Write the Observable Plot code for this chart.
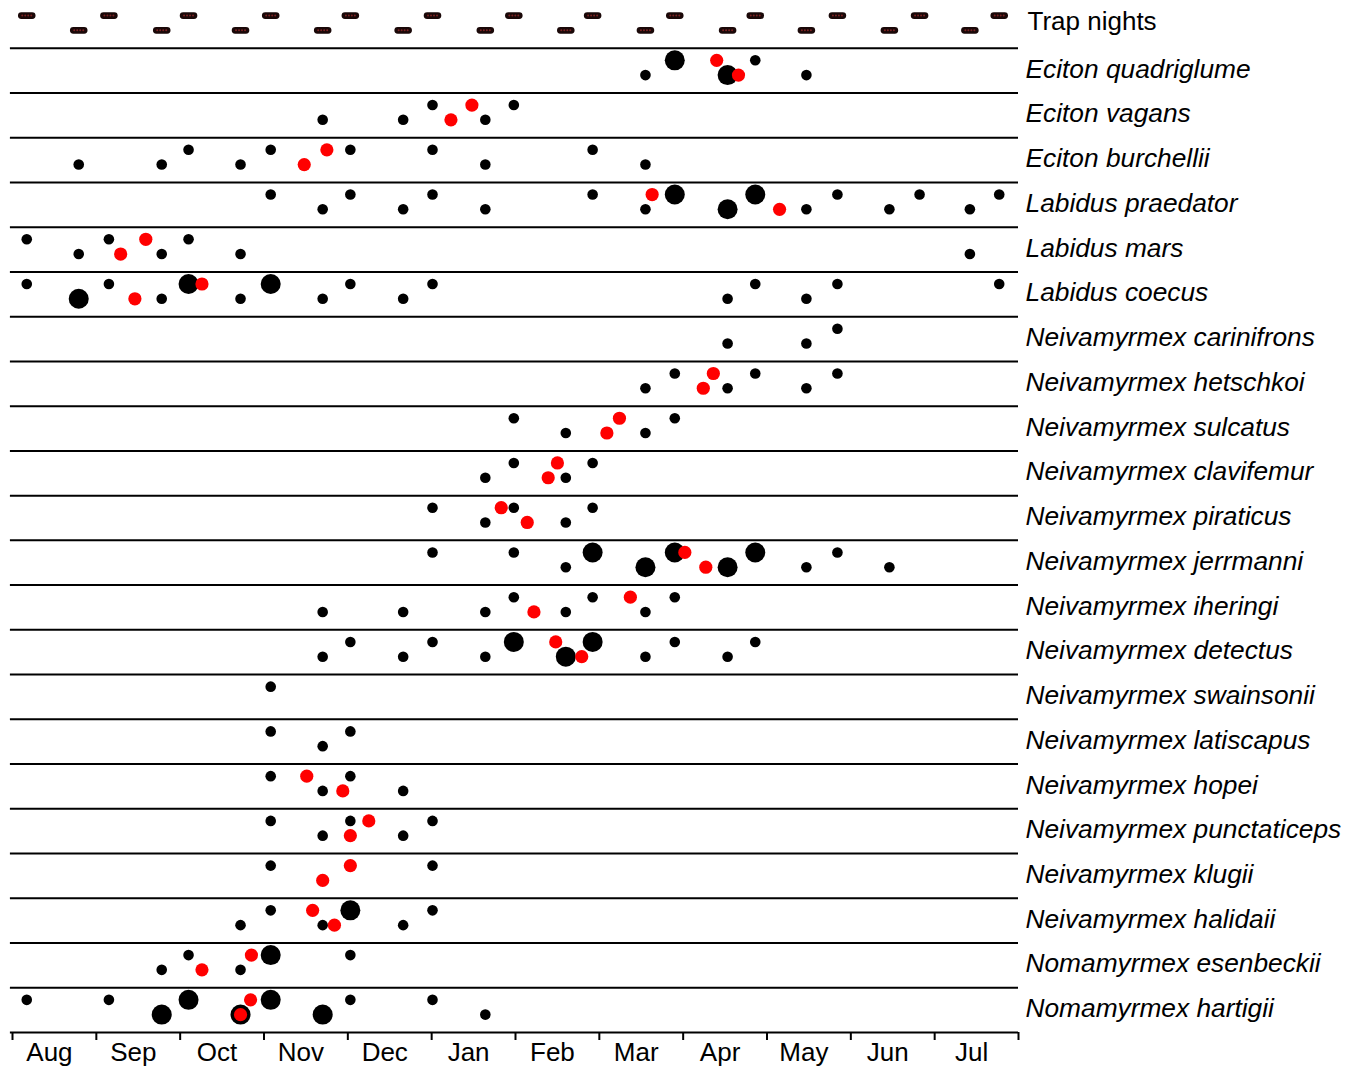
<!DOCTYPE html>
<html>
<head>
<meta charset="utf-8">
<script src="https://cdn.jsdelivr.net/npm/d3@7"></script>
<script src="https://cdn.jsdelivr.net/npm/@observablehq/plot@0.6"></script>
<style>
  html, body { margin: 0; padding: 0; background: #fff; }
  #chart svg { display: block; }
</style>
</head>
<body>
<div id="chart"></div>
<script>
// Row labels (row 0 = trap nights)
const rowLabels = [
  "Trap nights",
  "Eciton quadriglume", "Eciton vagans", "Eciton burchellii",
  "Labidus praedator", "Labidus mars", "Labidus coecus",
  "Neivamyrmex carinifrons", "Neivamyrmex hetschkoi", "Neivamyrmex sulcatus",
  "Neivamyrmex clavifemur", "Neivamyrmex piraticus", "Neivamyrmex jerrmanni",
  "Neivamyrmex iheringi", "Neivamyrmex detectus", "Neivamyrmex swainsonii",
  "Neivamyrmex latiscapus", "Neivamyrmex hopei", "Neivamyrmex punctaticeps",
  "Neivamyrmex klugii", "Neivamyrmex halidaii",
  "Nomamyrmex esenbeckii", "Nomamyrmex hartigii"
];

const monthLabels = ["Aug","Sep","Oct","Nov","Dec","Jan","Feb","Mar","Apr","May","Jun","Jul"];

// Sampling dates (months since 1 Aug); even index = upper level, odd = lower level
const sampleMonths = [0.17,0.79,1.15,1.78,2.10,2.72,3.08,3.70,4.03,4.66,5.01,5.64,5.98,
                      6.60,6.92,7.55,7.90,8.53,8.86,9.47,9.84,10.46,10.82,11.42,11.77];

// Trap-night sampling indices
const trapIdx = d3.range(25);

// Small black records (sample indices) per row
const smallIdx = [
  [],
  [15,18,19],
  [7,9,10,11,12],
  [1,3,4,5,6,8,10,11,14,15],
  [6,7,8,9,10,11,14,15,19,20,21,22,23,24],
  [0,1,2,3,4,5,23],
  [0,2,3,5,7,8,9,10,17,18,19,20,24],
  [17,19,20],
  [15,16,17,18,19,20],
  [12,13,15,16],
  [11,12,13,14],
  [10,11,12,13,14],
  [10,12,13,19,20,21],
  [7,9,11,12,13,14,15,16],
  [7,8,9,10,11,15,16,17,18],
  [6],
  [6,7,8],
  [6,7,8,9],
  [6,7,8,9,10],
  [6,10],
  [5,6,7,9,10],
  [3,4,5,8],
  [0,2,8,10,11]
];

// Large black records (sample indices) per row
const bigIdx = [
  [], [16,17], [], [], [16,17,18], [], [1,4,6], [], [], [], [], [],
  [14,15,16,17,18], [], [12,13,14], [], [], [], [], [], [8], [6], [3,4,5,6,7]
];

// Red records: date (months since 1 Aug) and level (1 = upper, 0 = lower) per row
const redMonths = [
  [], [8.40,8.66], [5.23,5.48], [3.48,3.75], [7.63,9.15], [1.29,1.59], [1.46,2.26], [],
  [8.24,8.36], [7.09,7.24], [6.39,6.50], [5.83,6.14], [8.02,8.27], [6.22,7.37], [6.48,6.79],
  [], [], [3.51,3.94], [4.03,4.25], [3.70,4.03], [3.58,3.84], [2.26,2.85], [2.84,2.72]
];
const redUpper = [
  [], [1,0], [0,1], [0,1], [1,0], [0,1], [0,1], [],
  [0,1], [0,1], [0,1], [1,0], [1,0], [0,1], [1,0],
  [], [], [1,0], [0,1], [0,1], [1,0], [0,1], [1,0]
];

// ---- build tables ----
const UP = 0.27, LOW = 0.6;
const levelOf = i => (i % 2 === 0 ? UP : LOW);
const nRows = rowLabels.length;

const traps = trapIdx.map(i => ({x: sampleMonths[i], y: levelOf(i)}));
const small = [], big = [], red = [];
smallIdx.forEach((arr, r) => arr.forEach(i => small.push({x: sampleMonths[i], y: r + levelOf(i)})));
bigIdx.forEach((arr, r) => arr.forEach(i => big.push({x: sampleMonths[i], y: r + levelOf(i)})));
redMonths.forEach((arr, r) => arr.forEach((m, k) => red.push({x: m, y: r + (redUpper[r][k] ? UP : LOW)})));
const labels = rowLabels.map((name, r) => ({name, y: r + (r === 0 ? 0.4 : 0.47), italic: r > 0}));
const separators = d3.range(1, nRows + 1);

// custom symbols for trap-night glyphs
const capsule = {
  draw(ctx) {
    const w = 8.8, h = 3.4;
    ctx.moveTo(-w + h, -h);
    ctx.lineTo(w - h, -h);
    ctx.arc(w - h, 0, h, -Math.PI / 2, Math.PI / 2);
    ctx.lineTo(-w + h, h);
    ctx.arc(-w + h, 0, h, Math.PI / 2, 3 * Math.PI / 2);
    ctx.closePath();
  }
};
const specks = {
  draw(ctx) {
    for (const dx of [-4.5, -1.5, 1.5, 4.5]) {
      ctx.moveTo(dx + 1, 0);
      ctx.arc(dx, 0, 1, 0, 2 * Math.PI);
    }
  }
};

const FONT = "'Liberation Sans', Arial, Helvetica, sans-serif";

const chart = Plot.plot({
  width: 1357,
  height: 1067,
  marginLeft: 12,
  marginRight: 339,
  marginTop: 3,
  marginBottom: 35,
  style: {fontFamily: FONT, background: "#fff", overflow: "visible"},
  x: {domain: [0, 12], axis: null},
  y: {domain: [0, nRows], reverse: true, axis: null},
  marks: [
    Plot.ruleY(separators, {y: d => d, x1: -0.025, x2: 12, stroke: "#000", strokeWidth: 2}),
    Plot.axisX({ticks: d3.range(13), tickFormat: () => "", tickSize: 8, strokeWidth: 2,
      stroke: "#000", label: null}),
    Plot.axisX({ticks: d3.range(12).map(d => d + 0.5), tickSize: 0, tickPadding: 10, dx: -5,
      tickFormat: (d) => monthLabels[Math.floor(d)], fontSize: 26, fill: "#000", label: null}),
    Plot.dot(traps, {x: "x", y: "y", symbol: capsule, fill: "#1a0808", stroke: "none"}),
    Plot.dot(traps, {x: "x", y: "y", symbol: specks, fill: "#7a2222", stroke: "none"}),
    Plot.dot(small, {x: "x", y: "y", r: 5.3, fill: "#000", stroke: "none"}),
    Plot.dot(big, {x: "x", y: "y", r: 10, fill: "#000", stroke: "none"}),
    Plot.dot(red, {x: "x", y: "y", r: 6.6, fill: "#ff0000", stroke: "none"}),
    Plot.text(labels.filter(d => !d.italic), {x: 12, y: "y", text: "name", dx: 9, textAnchor: "start",
      fontSize: 26, fill: "#000"}),
    Plot.text(labels.filter(d => d.italic), {x: 12, y: "y", text: "name", dx: 7, textAnchor: "start",
      fontSize: 26.3, fontStyle: "italic", fill: "#000"})
  ]
});
document.getElementById("chart").appendChild(chart);
</script>
</body>
</html>
